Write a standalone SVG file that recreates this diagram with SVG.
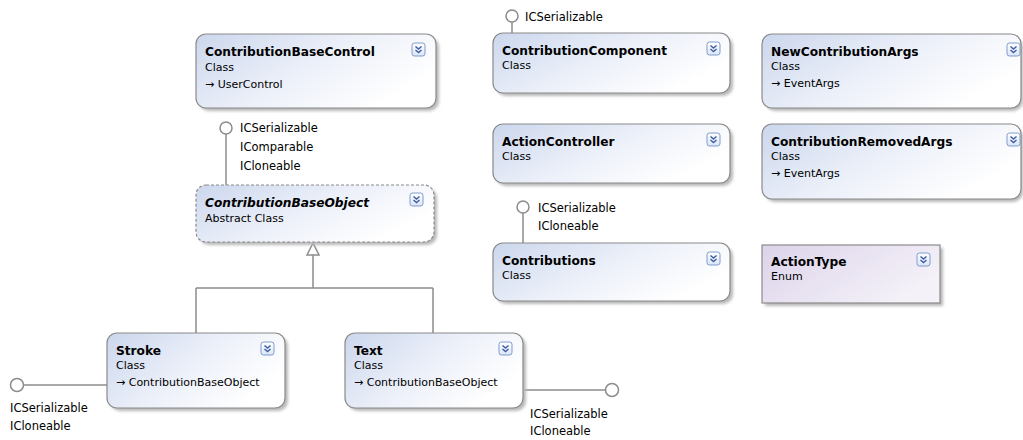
<svg xmlns="http://www.w3.org/2000/svg" width="1023" height="440" viewBox="0 0 1023 440">
  <defs>
    <linearGradient id="clsFill" x1="0" y1="0" x2="1" y2="0.5">
      <stop offset="0" stop-color="#ccd7ed"/>
      <stop offset="0.55" stop-color="#ecf0f9"/>
      <stop offset="1" stop-color="#ffffff"/>
    </linearGradient>
    <linearGradient id="enumFill" x1="0" y1="0" x2="1" y2="0.5">
      <stop offset="0" stop-color="#dcd3ea"/>
      <stop offset="1" stop-color="#f4f1f8"/>
    </linearGradient>
    <linearGradient id="btnFill" x1="0" y1="0" x2="0" y2="1">
      <stop offset="0" stop-color="#ffffff"/>
      <stop offset="1" stop-color="#dbe5f6"/>
    </linearGradient>
    <filter id="shadow" x="-10%" y="-10%" width="130%" height="140%">
      <feGaussianBlur stdDeviation="1.5"/>
    </filter>
    <!-- expand/collapse toggle -->
    <g id="toggle">
      <rect x="0" y="0" width="13" height="13" rx="2.5" fill="url(#btnFill)" stroke="#7f9bcc" stroke-width="1"/>
      <path d="M3.5 3.5 L6.5 6 L9.5 3.5 M3.5 7 L6.5 9.5 L9.5 7" fill="none" stroke="#3f5fa3" stroke-width="1.5"/>
    </g>
  </defs>
  <style>
    .shadow { fill: #b8b8b8; filter: url(#shadow); }
    .box { fill: url(#clsFill); stroke: #8a8a8a; stroke-width: 1.2; }
    .abstract { stroke-dasharray: 3 2; }
    .enum { fill: url(#enumFill); stroke: #8a8a8a; stroke-width: 1.2; }
    .title { font-family: "DejaVu Sans", "Liberation Sans", sans-serif; font-size: 12.2px; font-weight: bold; fill: #000; }
    .italic { font-style: italic; }
    .sub { font-family: "DejaVu Sans", "Liberation Sans", sans-serif; font-size: 11px; fill: #000; }
    .iface { font-family: "DejaVu Sans", "Liberation Sans", sans-serif; font-size: 11.5px; fill: #000; }
    .wire { fill: none; stroke: #8c8c8c; stroke-width: 1.5; }
    .lolly { fill: #ffffff; stroke: #8c8c8c; stroke-width: 1.5; }
  </style>

  <rect width="1023" height="440" fill="#ffffff"/>

  <!-- connectors: inheritance and interface lollipops -->
  <g id="connectors">
    <!-- ContributionBaseObject <- Stroke, Text -->
    <path class="wire" d="M313 255 V288 M196 288 H433 M196 288 V333 M433 288 V333"/>
    <polygon points="313,243 307,255 319,255" fill="#ffffff" stroke="#8c8c8c" stroke-width="1.5"/>
    <!-- ContributionBaseObject interfaces -->
    <path class="wire" d="M226 134 V185"/>
    <circle class="lolly" cx="226" cy="128" r="6"/>
    <!-- Stroke interfaces -->
    <path class="wire" d="M24 385 H107"/>
    <circle class="lolly" cx="17" cy="385" r="6.5"/>
    <!-- Text interfaces -->
    <path class="wire" d="M523 390 H606"/>
    <circle class="lolly" cx="612" cy="390" r="6.5"/>
    <!-- ContributionComponent interface -->
    <path class="wire" d="M512 22 V33"/>
    <circle class="lolly" cx="512" cy="16" r="6"/>
    <!-- Contributions interfaces -->
    <path class="wire" d="M523 213 V243"/>
    <circle class="lolly" cx="523" cy="207" r="6"/>
  </g>

  <g id="lbl-cbo-ifaces">
    <text class="iface" x="240" y="132">ICSerializable</text>
    <text class="iface" x="240" y="151">IComparable</text>
    <text class="iface" x="240" y="170">ICloneable</text>
  </g>
  <g id="lbl-stroke-ifaces">
    <text class="iface" x="10" y="412">ICSerializable</text>
    <text class="iface" x="10" y="430">ICloneable</text>
  </g>
  <g id="lbl-text-ifaces">
    <text class="iface" x="530" y="418">ICSerializable</text>
    <text class="iface" x="530" y="435">ICloneable</text>
  </g>
  <g id="lbl-cc-ifaces">
    <text class="iface" x="525" y="21">ICSerializable</text>
  </g>
  <g id="lbl-contribs-ifaces">
    <text class="iface" x="538" y="212">ICSerializable</text>
    <text class="iface" x="538" y="230">ICloneable</text>
  </g>

  <g id="ContributionBaseControl">
    <rect class="shadow" x="199" y="37" width="240" height="74" rx="10"/>
    <rect class="box" x="196" y="34" width="240" height="74" rx="10"/>
    <text class="title" x="205" y="56">ContributionBaseControl</text>
    <text class="sub" x="205" y="71">Class</text>
    <text class="sub" x="205" y="88">→ UserControl</text>
    <use href="#toggle" x="412" y="43"/>
  </g>

  <g id="ContributionBaseObject">
    <rect class="shadow" x="199" y="188" width="238" height="57" rx="10"/>
    <rect class="box abstract" x="196" y="185" width="238" height="57" rx="10"/>
    <text class="title italic" x="205" y="207">ContributionBaseObject</text>
    <text class="sub" x="205" y="222">Abstract Class</text>
    <use href="#toggle" x="410" y="193"/>
  </g>

  <g id="Stroke">
    <rect class="shadow" x="110" y="336" width="178" height="75" rx="10"/>
    <rect class="box" x="107" y="333" width="178" height="75" rx="10"/>
    <text class="title" x="116" y="355">Stroke</text>
    <text class="sub" x="116" y="369">Class</text>
    <text class="sub" x="116" y="386">→ ContributionBaseObject</text>
    <use href="#toggle" x="261" y="342"/>
  </g>

  <g id="Text">
    <rect class="shadow" x="348" y="336" width="178" height="75" rx="10"/>
    <rect class="box" x="345" y="333" width="178" height="75" rx="10"/>
    <text class="title" x="354" y="355">Text</text>
    <text class="sub" x="354" y="369">Class</text>
    <text class="sub" x="354" y="386">→ ContributionBaseObject</text>
    <use href="#toggle" x="499" y="342"/>
  </g>

  <g id="ContributionComponent">
    <rect class="shadow" x="496" y="36" width="237" height="60" rx="10"/>
    <rect class="box" x="493" y="33" width="237" height="60" rx="10"/>
    <text class="title" x="502" y="55">ContributionComponent</text>
    <text class="sub" x="502" y="69">Class</text>
    <use href="#toggle" x="707" y="42"/>
  </g>

  <g id="ActionController">
    <rect class="shadow" x="496" y="127" width="237" height="59" rx="10"/>
    <rect class="box" x="493" y="124" width="237" height="59" rx="10"/>
    <text class="title" x="502" y="146">ActionController</text>
    <text class="sub" x="502" y="160">Class</text>
    <use href="#toggle" x="707" y="133"/>
  </g>

  <g id="Contributions">
    <rect class="shadow" x="496" y="246" width="237" height="58" rx="10"/>
    <rect class="box" x="493" y="243" width="237" height="58" rx="10"/>
    <text class="title" x="502" y="265">Contributions</text>
    <text class="sub" x="502" y="279">Class</text>
    <use href="#toggle" x="707" y="252"/>
  </g>

  <g id="NewContributionArgs">
    <rect class="shadow" x="765" y="37" width="258" height="74" rx="10"/>
    <rect class="box" x="762" y="34" width="259" height="74" rx="10"/>
    <text class="title" x="771" y="56">NewContributionArgs</text>
    <text class="sub" x="771" y="70">Class</text>
    <text class="sub" x="771" y="87">→ EventArgs</text>
    <use href="#toggle" x="1007" y="43"/>
  </g>

  <g id="ContributionRemovedArgs">
    <rect class="shadow" x="765" y="127" width="258" height="75" rx="10"/>
    <rect class="box" x="762" y="124" width="259" height="75" rx="10"/>
    <text class="title" x="771" y="146">ContributionRemovedArgs</text>
    <text class="sub" x="771" y="160">Class</text>
    <text class="sub" x="771" y="177">→ EventArgs</text>
    <use href="#toggle" x="1007" y="133"/>
  </g>

  <g id="ActionType">
    <rect class="shadow" x="765" y="248" width="178" height="58"/>
    <rect class="enum" x="762" y="245" width="178" height="58"/>
    <text class="title" x="771" y="266">ActionType</text>
    <text class="sub" x="771" y="280">Enum</text>
    <use href="#toggle" x="917" y="253"/>
  </g>
</svg>
